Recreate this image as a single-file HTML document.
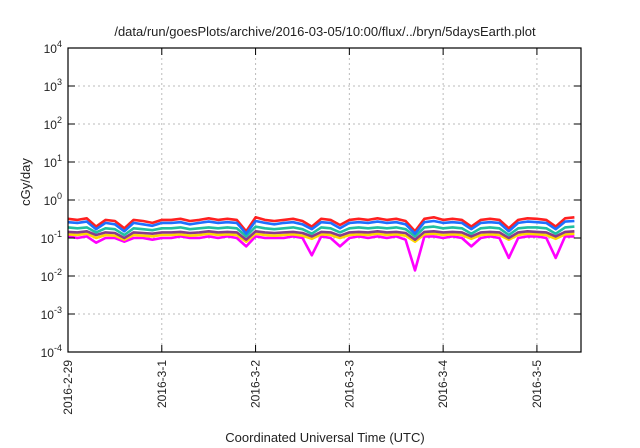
<!DOCTYPE html>
<html><head><meta charset="utf-8"><style>
html,body{margin:0;padding:0;background:#fff;}
svg{display:block;font-family:"Liberation Sans",sans-serif;}
</style></head><body>
<svg id="chart" width="640" height="448" viewBox="0 0 640 448" xmlns="http://www.w3.org/2000/svg">
<rect width="640" height="448" fill="#fff"/>
<text x="325" y="36" font-size="13" text-anchor="middle" fill="#222">/data/run/goesPlots/archive/2016-03-05/10:00/flux/../bryn/5daysEarth.plot</text>
<text transform="translate(30,182) rotate(-90)" font-size="13" text-anchor="middle" fill="#222">cGy/day</text>
<text x="325" y="442" font-size="13" text-anchor="middle" fill="#222">Coordinated Universal Time (UTC)</text>
<g id="grid"></g>
<g id="series"></g>
<rect x="68" y="48" width="513" height="304" fill="none" stroke="#000" stroke-width="1.2"/>
<g id="axes"></g>
</svg>
<script>
const times = [0,0.1,0.2,0.3,0.4,0.5,0.6,0.7,0.8,0.9,1.0,1.1,1.2,1.3,1.4,1.5,1.6,1.7,1.8,1.9,2.0,2.1,2.2,2.3,2.4,2.5,2.6,2.7,2.8,2.9,3.0,3.1,3.2,3.3,3.4,3.5,3.6,3.7,3.8,3.9,4.0,4.1,4.2,4.3,4.4,4.5,4.6,4.7,4.8,4.9,5.0,5.1,5.2,5.3,5.4];
const redVals = [0.32,0.3,0.33,0.2,0.3,0.28,0.18,0.3,0.28,0.25,0.3,0.3,0.32,0.28,0.3,0.33,0.3,0.32,0.3,0.15,0.35,0.3,0.28,0.3,0.32,0.28,0.2,0.32,0.3,0.22,0.3,0.32,0.3,0.33,0.3,0.32,0.28,0.15,0.32,0.35,0.3,0.32,0.3,0.2,0.3,0.32,0.3,0.18,0.3,0.33,0.32,0.3,0.2,0.33,0.35];
const blueVals = [0.26,0.25,0.27,0.17,0.25,0.23,0.15,0.25,0.23,0.21,0.25,0.25,0.26,0.23,0.25,0.27,0.25,0.26,0.25,0.13,0.28,0.25,0.23,0.25,0.26,0.23,0.17,0.26,0.25,0.18,0.25,0.26,0.25,0.27,0.25,0.26,0.23,0.13,0.26,0.28,0.25,0.26,0.25,0.17,0.25,0.26,0.25,0.15,0.25,0.27,0.26,0.25,0.17,0.27,0.28];
const tealVals = [0.19,0.18,0.19,0.14,0.18,0.17,0.12,0.18,0.17,0.16,0.18,0.18,0.19,0.17,0.18,0.19,0.18,0.19,0.18,0.11,0.2,0.18,0.17,0.18,0.19,0.17,0.13,0.19,0.18,0.14,0.18,0.19,0.18,0.19,0.18,0.19,0.17,0.11,0.19,0.2,0.18,0.19,0.18,0.13,0.18,0.19,0.18,0.12,0.18,0.19,0.19,0.18,0.13,0.19,0.2];
const purpleVals = [0.145,0.14,0.15,0.12,0.14,0.135,0.1,0.14,0.135,0.13,0.14,0.14,0.145,0.135,0.14,0.15,0.14,0.145,0.14,0.09,0.15,0.14,0.135,0.14,0.145,0.135,0.11,0.145,0.14,0.115,0.14,0.145,0.14,0.15,0.14,0.145,0.135,0.09,0.145,0.15,0.14,0.145,0.14,0.11,0.14,0.145,0.14,0.1,0.14,0.15,0.145,0.14,0.11,0.145,0.15];
const yellowVals = [0.125,0.12,0.13,0.1,0.12,0.115,0.09,0.12,0.115,0.11,0.12,0.12,0.125,0.115,0.12,0.13,0.12,0.125,0.12,0.08,0.13,0.12,0.115,0.12,0.125,0.115,0.095,0.125,0.12,0.1,0.12,0.125,0.12,0.13,0.12,0.125,0.115,0.08,0.125,0.13,0.12,0.125,0.12,0.095,0.12,0.125,0.12,0.09,0.12,0.13,0.125,0.12,0.095,0.125,0.13];
const magentaVals = [0.11,0.1,0.11,0.075,0.1,0.1,0.08,0.1,0.1,0.09,0.1,0.1,0.11,0.1,0.1,0.11,0.1,0.11,0.1,0.06,0.11,0.1,0.1,0.1,0.11,0.1,0.035,0.11,0.1,0.06,0.1,0.11,0.1,0.11,0.1,0.11,0.09,0.014,0.11,0.11,0.1,0.11,0.1,0.06,0.1,0.11,0.1,0.03,0.1,0.11,0.11,0.1,0.03,0.11,0.11];
const xTickDays = [0,1,2,3,4,5];
const xTickLabels = ["2016-2-29","2016-3-1","2016-3-2","2016-3-3","2016-3-4","2016-3-5"];
const yTickExps = [-4,-3,-2,-1,0,1,2,3,4];

const NS = "http://www.w3.org/2000/svg";
const L=68,R=581,T=48,B=352, DAYS=5.47;
const xS = d => L + d/DAYS*(R-L);
const yS = v => B - (Math.log10(v)+4)/8*(B-T);
const grid=document.getElementById('grid'), axes=document.getElementById('axes'), ser=document.getElementById('series');
function mk(tag, parent, attrs){const e=document.createElementNS(NS,tag);for(const k in attrs)e.setAttribute(k,attrs[k]);parent.appendChild(e);return e;}

yTickExps.forEach(p=>{
  const y=yS(Math.pow(10,p));
  if(p>-4&&p<4){const g=mk('line',grid,{x1:L,x2:R,y1:y,y2:y,stroke:'#bbb','stroke-dasharray':'2,3','stroke-width':1});
    
    }
  const t1=mk('line',axes,{x1:L,x2:L+7,y1:y,y2:y,stroke:'#000'});
  
  
  const t2=mk('line',axes,{x1:R-7,x2:R,y1:y,y2:y,stroke:'#000'});
  
  
  const tx=mk('text',axes,{x:L-6,y:y+5,'font-size':12,'text-anchor':'end',fill:'#222'});
  
  
  tx.textContent='10';
  const sup=mk('tspan',tx,{dy:-6,'font-size':9});
  sup.textContent=String(p);
});
xTickDays.forEach((d,i)=>{
  const x=xS(d);
  if(d>0){const g=mk('line',grid,{x1:x,x2:x,y1:T,y2:B,stroke:'#bbb','stroke-dasharray':'2,3','stroke-width':1});
    
    }
  const t1=mk('line',axes,{x1:x,x2:x,y1:B-7,y2:B,stroke:'#000'});
  
  
  const t2=mk('line',axes,{x1:x,x2:x,y1:T,y2:T+7,stroke:'#000'});
  
  
  const tx=mk('text',axes,{transform:`translate(${x+4},${B+8}) rotate(-90)`,'font-size':12,'text-anchor':'end',fill:'#222'});
  
  
  tx.textContent=xTickLabels[i];
});
function line(vals,color,name,dy){
  const d=vals.map((v,i)=>(i?'L':'M')+xS(times[i]).toFixed(1)+','+(yS(v)+dy).toFixed(1)).join('');
  const p=mk('path',ser,{d:d,fill:'none',stroke:color,'stroke-width':2.6,'stroke-linejoin':'round'});
  
  
}
line(magentaVals,'#ff00ff','series-magenta',0);
line(yellowVals,'#ffd700','series-yellow',0);
line(purpleVals,'#8b3a8b','series-purple',0);
line(tealVals,'#20c0a0','series-teal',0);
line(redVals,'#ff2020','series-red',0);
line(blueVals,'#1e70ff','series-blue',0);
</script>
</body></html>
